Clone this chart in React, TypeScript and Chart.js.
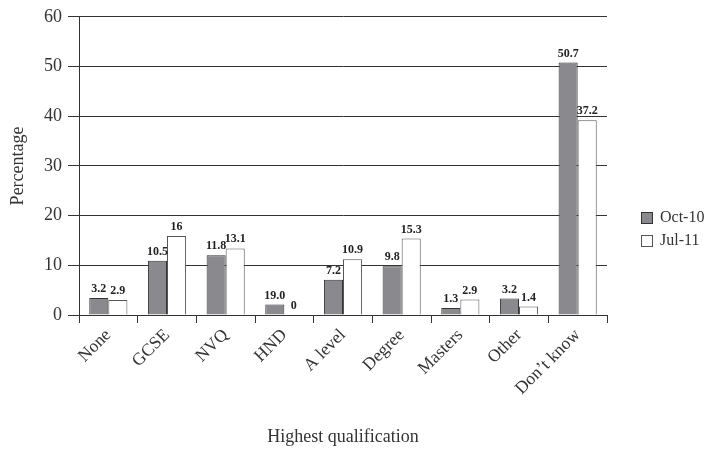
import React, { useEffect, useRef } from "react";
import { Chart, registerables } from "chart.js";

Chart.register(...registerables);

const categories = ["None", "GCSE", "NVQ", "HND", "A level", "Degree", "Masters", "Other", "Don’t know"];
const seriesNames = ["Oct-10", "Jul-11"];
const oct10 = [3.4, 10.9, 12.0, 2.1, 7.1, 9.8, 1.4, 3.3, 50.8];
const jul11 = [3.0, 15.9, 13.4, 0, 11.2, 15.4, 3.1, 1.7, 39.2];
const oct10Labels = ["3.2", "10.5", "11.8", "19.0", "7.2", "9.8", "1.3", "3.2", "50.7"];
const jul11Labels = ["2.9", "16", "13.1", "0", "10.9", "15.3", "2.9", "1.4", "37.2"];
const yTicks = [0, 10, 20, 30, 40, 50, 60];

const FONT = "'Liberation Serif', 'DejaVu Serif', serif";
const TEXT = "#333";

const valueLabels = {
  id: "valueLabels",
  afterDatasetsDraw(chart: any) {
    const ctx = chart.ctx;
    const lbls = [oct10Labels, jul11Labels];
    ctx.save();
    ctx.font = `bold 12px ${FONT}`;
    ctx.fillStyle = "#222";
    ctx.textAlign = "center";
    ctx.textBaseline = "bottom";
    chart.data.datasets.forEach((_: any, di: number) => {
      const meta = chart.getDatasetMeta(di);
      meta.data.forEach((el: any, i: number) => {
        ctx.fillText(lbls[di][i], el.x, el.y - 3);
      });
    });
    ctx.restore();
  },
};

const customLegend = {
  id: "customLegend",
  afterDraw(chart: any) {
    const ctx = chart.ctx;
    const fills = ["#8a8a8e", "#ffffff"];
    const strokes = ["#333", "#555"];
    ctx.save();
    ctx.font = `16px ${FONT}`;
    ctx.textBaseline = "middle";
    ctx.textAlign = "left";
    seriesNames.forEach((name, i) => {
      const y = 212 + i * 23;
      ctx.fillStyle = fills[i];
      ctx.fillRect(641, y, 12, 12);
      ctx.strokeStyle = strokes[i];
      ctx.lineWidth = 1;
      ctx.strokeRect(641.5, y + 0.5, 11, 11);
      ctx.fillStyle = TEXT;
      ctx.fillText(name, 660, y + 6);
    });
    ctx.restore();
  },
};

export default function App() {
  const ref = useRef<HTMLCanvasElement>(null);
  useEffect(() => {
    if (!ref.current) return;
    const chart = new Chart(ref.current, {
      type: "bar",
      data: {
        labels: categories,
        datasets: [
          {
            label: seriesNames[0],
            data: oct10,
            backgroundColor: "#8a8a8e",
            borderColor: "#333",
            borderWidth: 1,
            categoryPercentage: 0.65,
            barPercentage: 1,
          },
          {
            label: seriesNames[1],
            data: jul11,
            backgroundColor: "#ffffff",
            borderColor: "#555",
            borderWidth: 1,
            categoryPercentage: 0.65,
            barPercentage: 1,
          },
        ],
      },
      options: {
        animation: false,
        responsive: false,
        layout: { padding: { top: 11, right: 109, bottom: 0, left: 0 } },
        plugins: {
          legend: { display: false },
          tooltip: { enabled: false },
        },
        scales: {
          x: {
            grid: {
              offset: true,
              drawOnChartArea: false,
              drawTicks: true,
              tickLength: 8,
              color: "#333",
            },
            border: { display: true, color: "#333" },
            ticks: {
              autoSkip: false,
              minRotation: 45,
              maxRotation: 45,
              padding: 2,
              color: TEXT,
              font: { family: FONT, size: 17.5 },
            },
            title: {
              display: true,
              text: "Highest qualification",
              color: TEXT,
              font: { family: FONT, size: 18 },
              padding: { top: 0, bottom: 5 },
            },
            afterFit: (scale: any) => {
              scale.height = 138;
            },
          },
          y: {
            min: 0,
            max: 60,
            afterBuildTicks: (scale: any) => {
              scale.ticks = yTicks.map((v) => ({ value: v }));
            },
            grid: {
              color: "#333",
              drawTicks: true,
              tickLength: 11,
            },
            border: { display: true, color: "#333" },
            ticks: {
              padding: 6,
              color: TEXT,
              font: { family: FONT, size: 18 },
            },
            title: {
              display: true,
              text: "Percentage",
              color: TEXT,
              font: { family: FONT, size: 18 },
              padding: { top: 7, bottom: 0 },
            },
            afterFit: (scale: any) => {
              scale.width = 79;
            },
          },
        },
      },
      plugins: [valueLabels, customLegend],
    });
    return () => chart.destroy();
  }, []);
  return (
    <div style={{ position: "fixed", left: 0, top: 0, width: 716, height: 453, background: "#fff" }}>
      <canvas ref={ref} width={716} height={453} style={{ width: 716, height: 453, display: "block" }} />
    </div>
  );
}
